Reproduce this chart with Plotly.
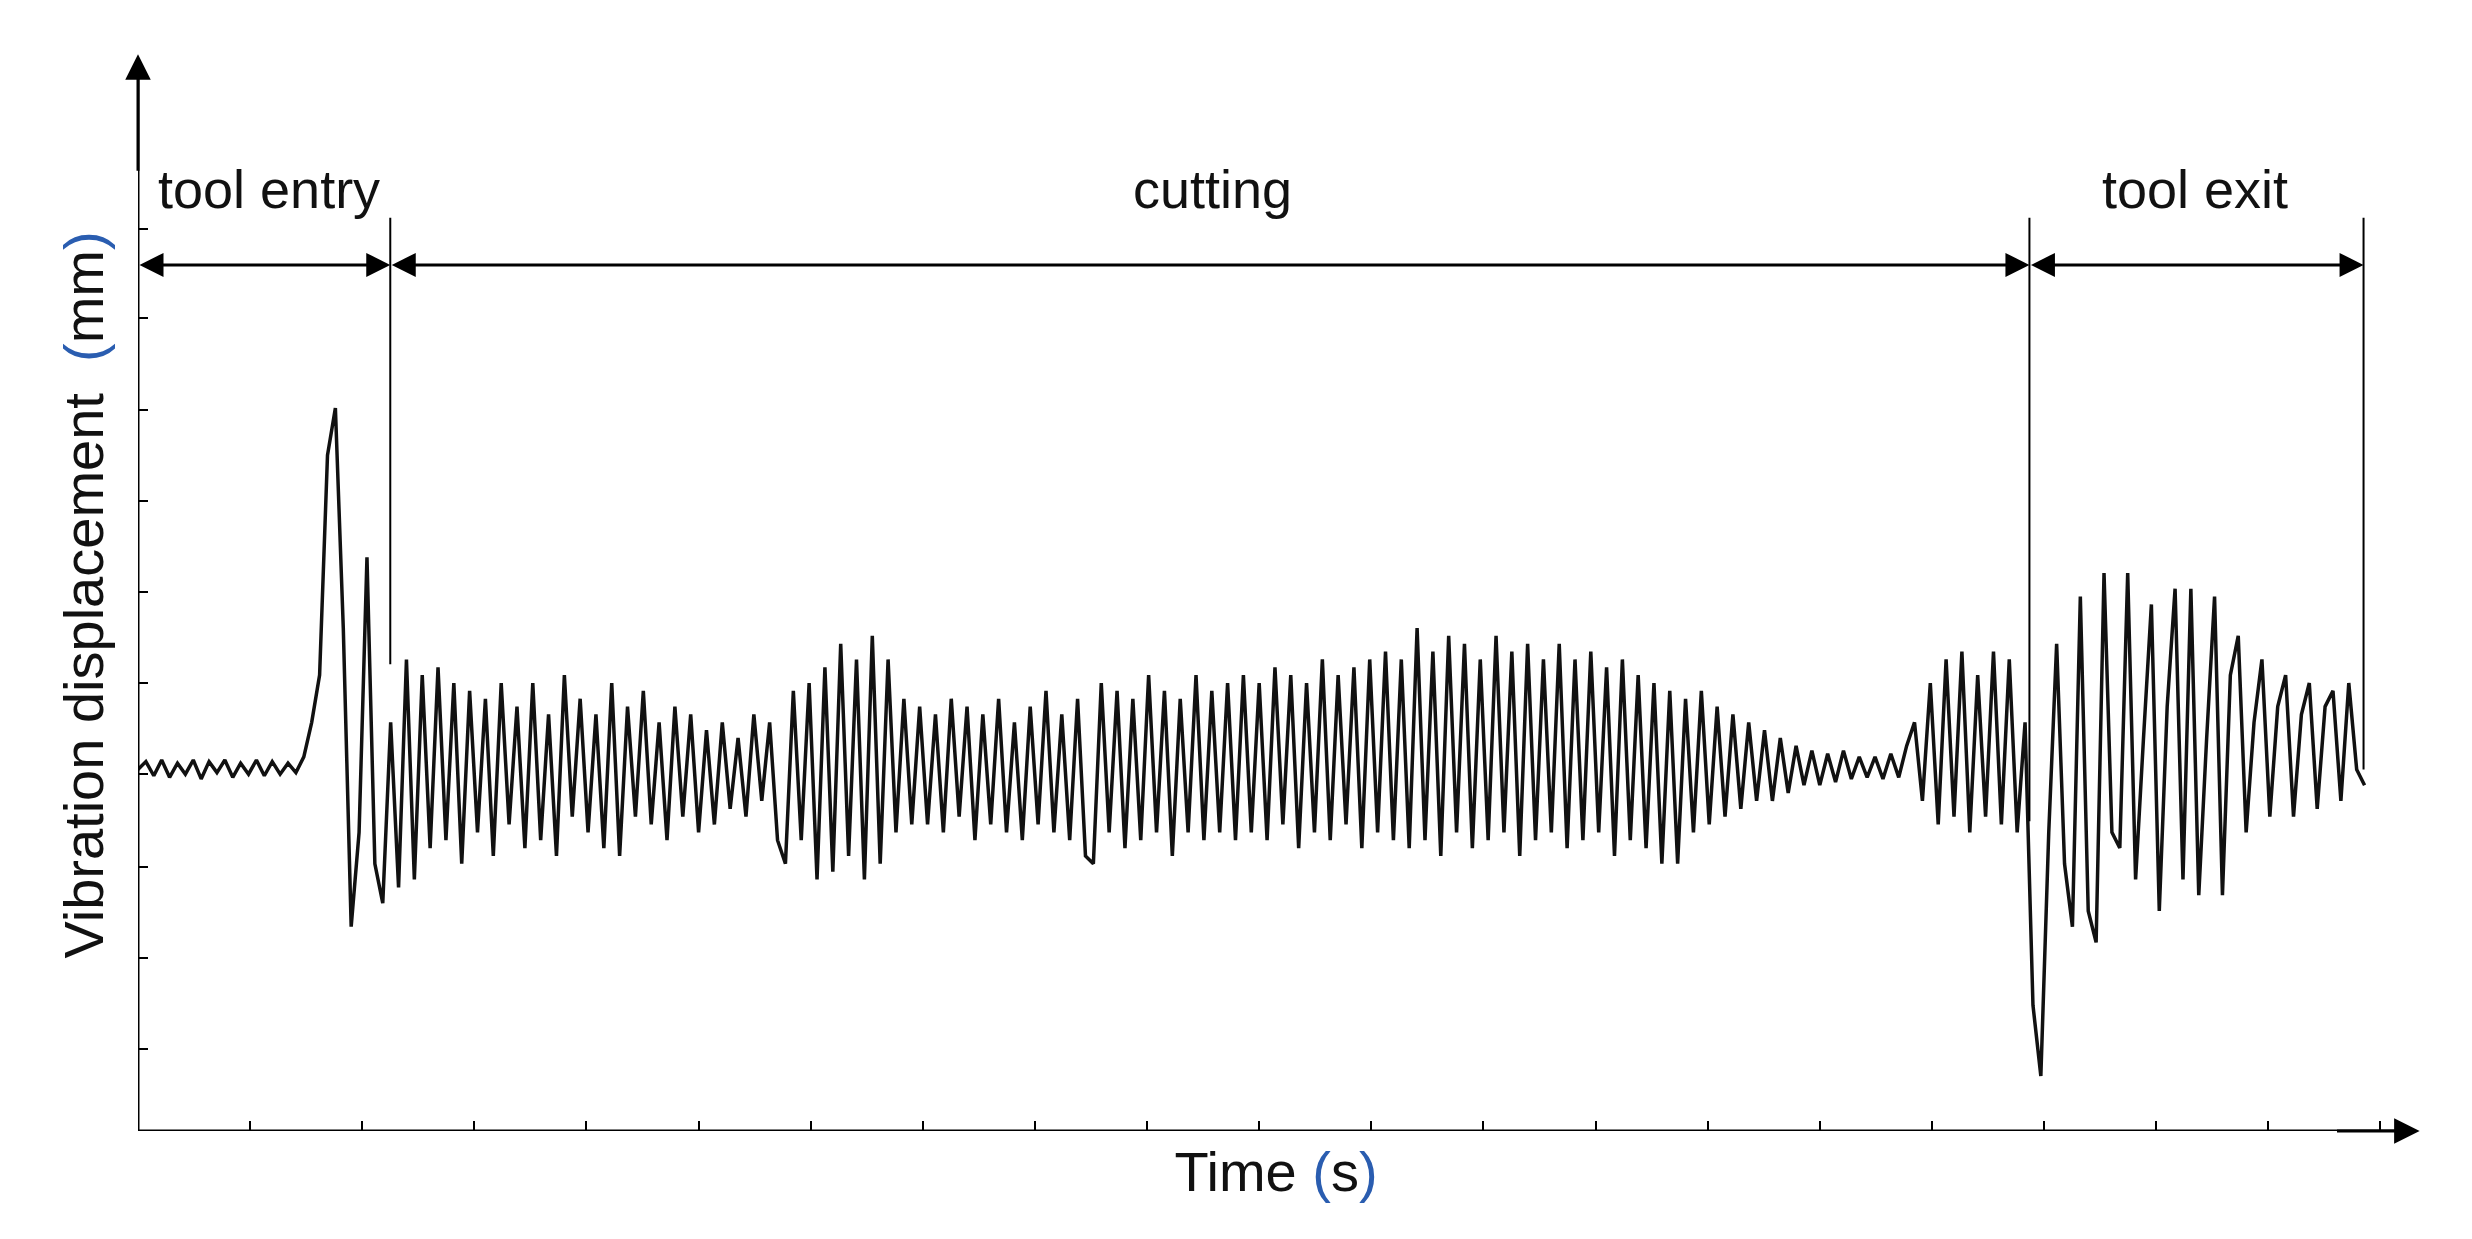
import plotly.graph_objects as go

# signal sampled every 5 px of the original figure (step 5/71 time units), deviation from rest level
step = 5 / 71
sig = [
    0, 5, -4, 6, -5, 4, -3, 6, -6, 5, -2, 6, -5, 4, -3, 6, -4, 5, -3, 4,
    -2, 8, 30, 60, 200, 230, 90, -100, -40, 135, -60, -85, 30, -75, 70, -70, 60, -50, 65, -45,
    55, -60, 50, -40, 45, -55, 55, -35, 40, -50, 55, -45, 35, -55, 60, -30, 45, -40, 35, -50,
    55, -55, 40, -30, 50, -35, 30, -45, 40, -30, 35, -40, 25, -35, 30, -25, 20, -30, 35, -20,
    30, -45, -60, 50, -45, 55, -70, 65, -65, 80, -55, 70, -70, 85, -60, 70, -40, 45, -35, 40,
    -35, 35, -40, 45, -30, 40, -45, 35, -35, 45, -40, 30, -45, 40, -35, 50, -40, 35, -45, 45,
    -55, -60, 55, -40, 50, -50, 45, -45, 60, -40, 50, -55, 45, -40, 60, -45, 50, -40, 55, -45,
    60, -40, 55, -45, 65, -35, 60, -50, 55, -40, 70, -45, 60, -35, 65, -50, 70, -40, 75, -45,
    70, -50, 90, -45, 75, -55, 85, -40, 80, -50, 70, -45, 85, -40, 75, -55, 80, -45, 70, -40,
    80, -50, 70, -45, 75, -40, 65, -55, 70, -45, 60, -50, 55, -60, 50, -60, 45, -40, 50, -35,
    40, -30, 35, -25, 30, -20, 25, -20, 20, -15, 15, -10, 12, -10, 10, -8, 12, -6, 8, -5,
    8, -6, 10, -5, 15, 30, -20, 55, -35, 70, -30, 75, -40, 60, -30, 75, -35, 70, -40, 30,
    -150, -195, -40, 80, -60, -100, 110, -90, -110, 125, -40, -50, 125, -70, 20, 105, -90, 40, 115, -70,
    115, -80, 20, 110, -80, 60, 85, -40, 30, 70, -30, 40, 60, -30, 35, 55, -25, 40, 50, -20,
    55, 0, -10,
]
t = [i * step for i in range(len(sig))]

y_ticks = [-178, -120, -62, -3, 55, 113, 171, 229, 287, 344]
x_ticks = list(range(0, 21))

# phase boundaries (time units) and label positions
bounds = [0, 2.25, 16.87, 19.85]
phase_names = ["tool entry", "cutting", "tool exit"]
label_x = [1.17, 9.58, 18.35]
arrow_y = 321
label_y = 369
vline_bottom = [67, -33, 0]

FONT = "Liberation Sans"

fig = go.Figure()
fig.add_trace(go.Scatter(x=t, y=sig, mode="lines", line=dict(color="#111111", width=3.5),
                         showlegend=False, hoverinfo="skip"))

shapes = []
for b, yb in zip(bounds[1:], vline_bottom):
    shapes.append(dict(type="line", x0=b, x1=b, y0=yb, y1=arrow_y + 30,
                       line=dict(color="black", width=2)))
shapes.append(dict(type="line", x0=0, x1=20.2, y0=-230, y1=-230, line=dict(color="black", width=3)))
shapes.append(dict(type="line", x0=0, x1=0, y0=-230, y1=445, line=dict(color="black", width=3)))

annotations = []
for a, b in zip(bounds[:-1], bounds[1:]):
    annotations.append(dict(x=b, y=arrow_y, ax=a, ay=arrow_y, xref="x", yref="y", axref="x", ayref="y",
                            text="", showarrow=True, arrowhead=2, arrowside="end+start",
                            arrowsize=1.6, arrowwidth=3, arrowcolor="black"))
for name, lx in zip(phase_names, label_x):
    annotations.append(dict(x=lx, y=label_y, xref="x", yref="y", text=name, showarrow=False,
                            font=dict(family=FONT, size=54, color="#111111")))
# axis arrowheads
annotations.append(dict(x=20.35, y=-230, ax=19.6, ay=-230, xref="x", yref="y", axref="x", ayref="y",
                        text="", showarrow=True, arrowhead=2, arrowsize=1.7, arrowwidth=3, arrowcolor="black"))
annotations.append(dict(x=0, y=455, ax=0, ay=380, xref="x", yref="y", axref="x", ayref="y",
                        text="", showarrow=True, arrowhead=2, arrowsize=1.7, arrowwidth=3, arrowcolor="black"))

blue = "#2a5db0"
fig.update_layout(
    width=2472, height=1239,
    plot_bgcolor="white", paper_bgcolor="white",
    margin=dict(l=130, r=66, t=51, b=116),
    shapes=shapes, annotations=annotations,
    font=dict(family=FONT, size=44, color="#111111"),
)
fig.update_xaxes(range=[0, 20.3], tickvals=x_ticks, ticktext=[""] * len(x_ticks), ticks="inside",
                 ticklen=10, tickwidth=2, tickcolor="black", showgrid=False, zeroline=False,
                 title=dict(text=f"Time <span style='color:{blue}'>(</span>s<span style='color:{blue}'>)</span>",
                            standoff=20, font=dict(size=56)))
fig.update_yaxes(range=[-230, 452], tickvals=y_ticks, ticktext=[""] * len(y_ticks), ticks="inside",
                 ticklen=10, tickwidth=2, tickcolor="black", showgrid=False, zeroline=False,
                 title=dict(text=f"Vibration displacement  <span style='color:{blue}'>(</span>mm<span style='color:{blue}'>)</span>",
                            standoff=15, font=dict(size=56)))

fig.write_html("out.html")
